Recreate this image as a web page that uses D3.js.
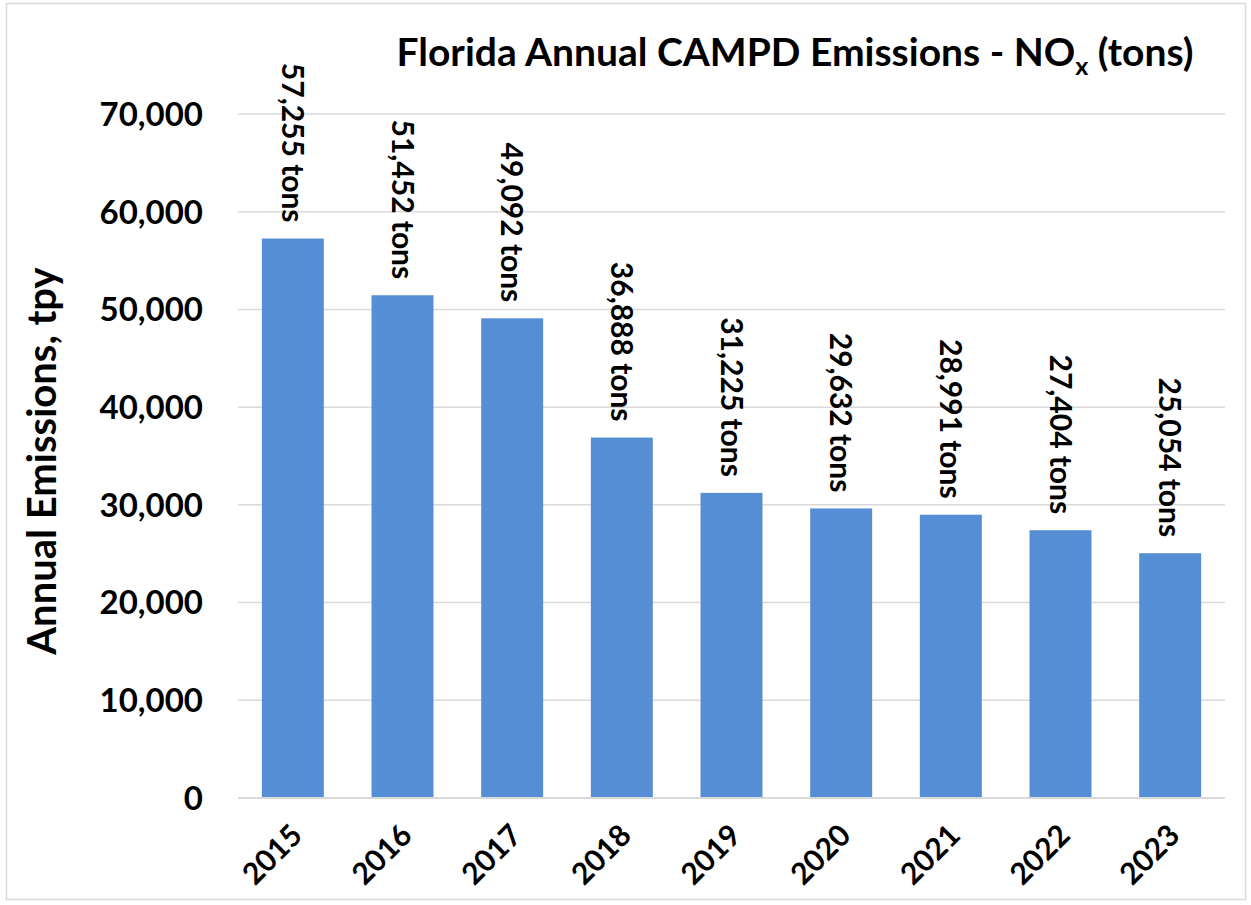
<!DOCTYPE html>
<html>
<head>
<meta charset="utf-8">
<script src="https://d3js.org/d3.v7.min.js"></script>
<style>
  html, body { margin: 0; padding: 0; background: #fff; overflow: hidden; }
  svg text { font-family: Lato, "Open Sans", sans-serif; font-weight: bold; fill: #000; }
</style>
</head>
<body>
<div id="chart"></div>
<script>
// chart data
var years = ["2015", "2016", "2017", "2018", "2019", "2020", "2021", "2022", "2023"];
var noxTons = [57255, 51452, 49092, 36888, 31225, 29632, 28991, 27404, 25054];
var yTicks = [0, 10000, 20000, 30000, 40000, 50000, 60000, 70000];

var width = 1251, height = 905;
var margin = {left: 238, right: 26, top: 114, bottom: 107};

var svg = d3.select("#chart").append("svg")
    .attr("width", width)
    .attr("height", height);

// outer frame
svg.append("rect")
    .attr("x", 6.5).attr("y", 3.5)
    .attr("width", 1239).attr("height", 896)
    .attr("fill", "#fff")
    .attr("stroke", "#d9d9d9")
    .attr("stroke-width", 1.5);

var x = d3.scaleBand()
    .domain(years)
    .range([margin.left, width - margin.right])
    .paddingInner(0.435)
    .paddingOuter(0.2175);

var y = d3.scaleLinear()
    .domain([0, 70000])
    .range([height - margin.bottom, margin.top]);

var fmt = d3.format(",");

// gridlines
svg.append("g")
    .selectAll("line")
    .data(yTicks.slice(1))
    .enter().append("line")
    .attr("x1", margin.left)
    .attr("x2", width - margin.right)
    .attr("y1", function (d) { return y(d); })
    .attr("y2", function (d) { return y(d); })
    .attr("stroke", "#d9d9d9")
    .attr("stroke-width", 1.5);

// y tick labels
svg.append("g")
    .selectAll("text")
    .data(yTicks)
    .enter().append("text")
    .attr("x", 203)
    .attr("y", function (d) { return y(d); })
    .attr("dy", "0.36em")
    .attr("text-anchor", "end")
    .style("font-size", "33px")
    .text(function (d) { return fmt(d); });

// bars
svg.append("g")
    .selectAll("rect")
    .data(noxTons)
    .enter().append("rect")
    .attr("x", function (d, i) { return x(years[i]); })
    .attr("y", function (d) { return y(d); })
    .attr("width", x.bandwidth())
    .attr("height", function (d) { return y(0) - y(d); })
    .attr("fill", "#558ed5");

// baseline
svg.append("line")
    .attr("x1", margin.left)
    .attr("x2", width - margin.right)
    .attr("y1", y(0))
    .attr("y2", y(0))
    .attr("stroke", "#d9d9d9")
    .attr("stroke-width", 2);

// value labels, rotated
svg.append("g")
    .selectAll("text")
    .data(noxTons)
    .enter().append("text")
    .attr("transform", function (d, i) {
        var cx = x(years[i]) + x.bandwidth() / 2;
        return "translate(" + cx + "," + (y(d) - 16) + ")rotate(90)";
    })
    .attr("text-anchor", "end")
    .attr("dy", "0.36em")
    .style("font-size", "30px")
    .text(function (d) { return fmt(d) + " tons"; });

// x tick labels
svg.append("g")
    .selectAll("text")
    .data(years)
    .enter().append("text")
    .attr("transform", function (d) {
        var cx = x(d) + x.bandwidth() / 2;
        return "translate(" + (cx - 4) + "," + (y(0) + 24) + ")rotate(-45)";
    })
    .attr("text-anchor", "end")
    .attr("dy", "0.72em")
    .style("font-size", "30px")
    .text(function (d) { return d; });

// y axis title
svg.append("text")
    .attr("transform", "translate(42," + 461 + ")rotate(-90)")
    .attr("text-anchor", "middle")
    .attr("dy", "0.36em")
    .style("font-size", "40px")
    .text("Annual Emissions, tpy");

// chart title
var title = svg.append("text")
    .attr("x", 795)
    .attr("y", 66)
    .attr("text-anchor", "middle")
    .style("font-size", "39px");
title.append("tspan").text("Florida Annual CAMPD Emissions - NO");
title.append("tspan").attr("dy", 9).style("font-size", "25px").text("x");
title.append("tspan").attr("dy", -9).text(" (tons)");
</script>
</body>
</html>
